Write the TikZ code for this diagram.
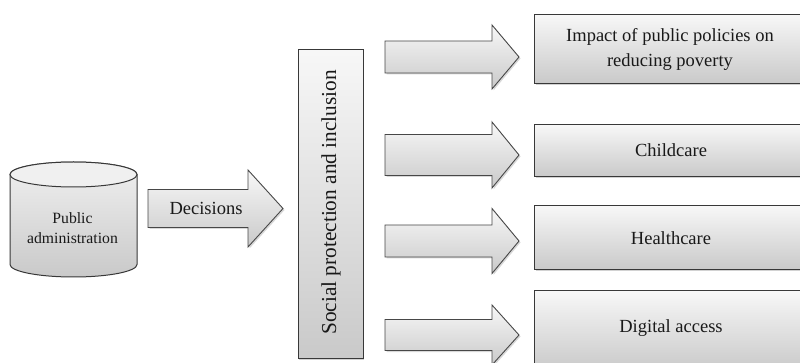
\documentclass[tikz,border=0pt]{standalone}
\usepackage{fontspec}
\setmainfont{Liberation Serif}
\usetikzlibrary{shadows}
\tikzset{
  shadebox/.style={draw=black!78, line width=1pt, top color=gray!6, bottom color=gray!42,
    drop shadow={opacity=0.35, shadow xshift=1pt, shadow yshift=-2pt}},
  blockarrow/.style={draw=black!72, line width=0.9pt, top color=gray!6, bottom color=gray!42,
    drop shadow={opacity=0.3, shadow xshift=1.5pt, shadow yshift=-1.5pt}},
  cylbody/.style={draw=black!78, line width=1pt, top color=gray!12, bottom color=gray!42},
  cyltop/.style={draw=black!78, line width=1pt, fill=gray!12},
  lbl/.style={font=\fontsize{18.5}{25}\selectfont, align=center, text=black!90},
  smalllbl/.style={font=\fontsize{15.7}{20.5}\selectfont, align=center, text=black!90},
}
\newcommand{\blkarrow}[6]{% x-left, x-headbase, x-tip, y-center, shaft half, head half
  \path[blockarrow] (#1,{#4-#5}) -- (#2,{#4-#5}) -- (#2,{#4-#6}) -- (#3,#4)
    -- (#2,{#4+#6}) -- (#2,{#4+#5}) -- (#1,{#4+#5}) -- cycle;}
\begin{document}
\begin{tikzpicture}[x=1pt,y=-1pt]
\useasboundingbox (0,0) rectangle (800,363);
\fill[white] (0,0) rectangle (800,363);

% cylinder
\path[cylbody] (10,174.5) -- (10,264.5)
  arc[start angle=180,end angle=360,x radius=63.5pt,y radius=12.5pt]
  -- (137,174.5)
  arc[start angle=0,end angle=180,x radius=63.5pt,y radius=12.5pt] -- cycle;
\draw[cyltop] (73.5,174.5) ellipse [x radius=63.5pt, y radius=12.5pt];
\node[smalllbl] (pa) at (72.5,228) {Public\\administration};

% decisions arrow
\blkarrow{148}{248}{283}{208.5}{19}{38.5}
\node[lbl] (dec) at (206,208) {Decisions};

% vertical box
\node[shadebox, minimum width=65pt, minimum height=308pt, inner sep=0pt] (spi) at (330.5,204) {};
\node[lbl, rotate=90, font=\fontsize{21.3}{25}\selectfont] (spit) at (331,202.5) {Social protection and inclusion};

% right arrows
\blkarrow{385}{492}{519}{57}{16}{32}
\blkarrow{385}{492}{519}{155}{20.5}{33}
\blkarrow{385}{492}{519}{241}{16}{32.5}
\blkarrow{385}{492}{519}{335}{15.5}{30}

% right boxes
\node[shadebox, anchor=north west, minimum width=272pt, minimum height=69pt, inner sep=0pt] (b1) at (534,14) {};
\node[lbl] (t1) at (670,49.5) {Impact of public policies on\\reducing poverty};
\node[shadebox, anchor=north west, minimum width=272pt, minimum height=52pt, inner sep=0pt] (b2) at (534,124) {};
\node[lbl] (t2) at (671,150) {Childcare};
\node[shadebox, anchor=north west, minimum width=272pt, minimum height=64pt, inner sep=0pt] (b3) at (534,205) {};
\node[lbl] (t3) at (671,238) {Healthcare};
\node[shadebox, anchor=north west, minimum width=272pt, minimum height=80pt, inner sep=0pt] (b4) at (534,290) {};
\node[lbl] (t4) at (671,328) {Digital access};
\end{tikzpicture}
\end{document}
